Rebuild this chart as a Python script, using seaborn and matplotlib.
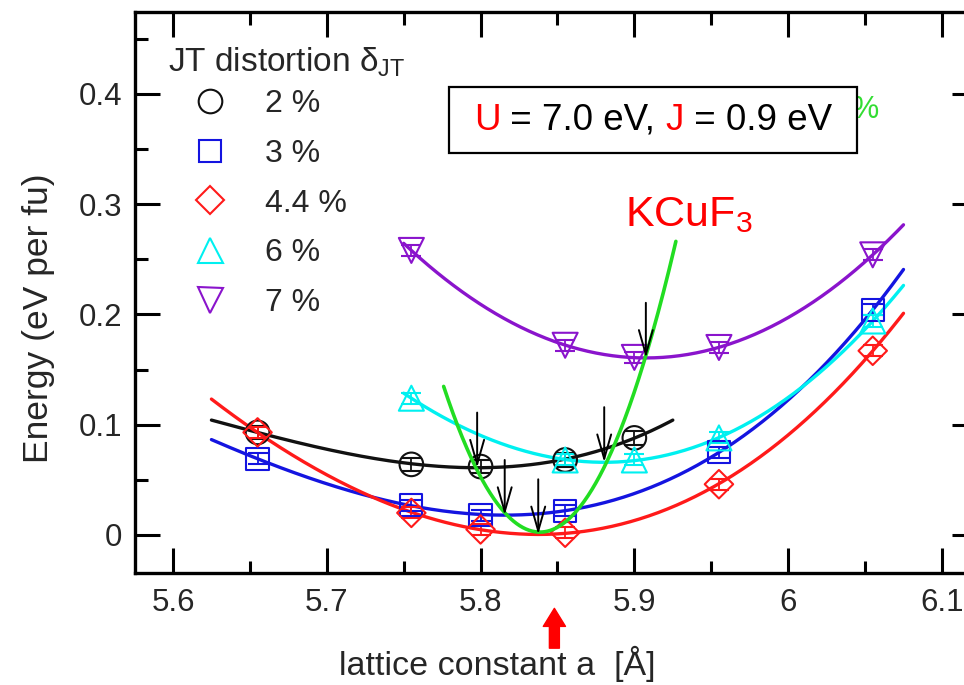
import numpy as np
import matplotlib
matplotlib.use("Agg")
import matplotlib.pyplot as plt
import seaborn as sns
from matplotlib.lines import Line2D
from matplotlib.patches import Rectangle
from matplotlib.offsetbox import TextArea, HPacker, AnchoredOffsetbox
from matplotlib.ticker import MultipleLocator, FuncFormatter

# Total energy (eV per formula unit) vs. cubic lattice constant a (Å)
# for several Jahn-Teller distortions, DFT+U with U = 7.0 eV, J = 0.9 eV
a_2 = [5.655, 5.755, 5.800, 5.855, 5.900]
e_2 = [0.093, 0.064, 0.062, 0.068, 0.088]
err_2 = [0.006, 0.006, 0.006, 0.006, 0.006]

a_3 = [5.655, 5.755, 5.800, 5.855, 5.955, 6.055]
e_3 = [0.069, 0.027, 0.018, 0.022, 0.075, 0.204]
err_3 = [0.005, 0.005, 0.005, 0.005, 0.005, 0.005]

a_44 = [5.655, 5.755, 5.800, 5.855, 5.955, 6.055]
e_44 = [0.093, 0.020, 0.005, 0.002, 0.046, 0.167]
err_44 = [0.005, 0.005, 0.005, 0.005, 0.005, 0.005]

a_6 = [5.755, 5.855, 5.900, 5.955, 6.055]
e_6 = [0.124, 0.068, 0.068, 0.088, 0.194]
err_6 = [0.005, 0.005, 0.005, 0.005, 0.005]

a_7 = [5.755, 5.855, 5.900, 5.955, 6.055]
e_7 = [0.258, 0.172, 0.161, 0.170, 0.254]
err_7 = [0.005, 0.005, 0.005, 0.005, 0.005]

labels = ["2 %", "3 %", "4.4 %", "6 %", "7 %"]
fit_ranges = [(5.625, 5.925), (5.625, 6.075), (5.625, 6.075), (5.750, 6.075), (5.750, 6.075)]

# experimental lattice constant of KCuF3
a_exp = 5.848

series = [
    (a_2, e_2, err_2, "o", 17, "#111111"),
    (a_3, e_3, err_3, "s", 16, "#1414e0"),
    (a_44, e_44, err_44, "D", 14.5, "#ff1a1a"),
    (a_6, e_6, err_6, "^", 18, "#00f0f0"),
    (a_7, e_7, err_7, "v", 18, "#8a14cc"),
]

sns.set_style("ticks")
plt.rcParams["font.family"] = ["Liberation Sans", "DejaVu Sans"]
plt.rcParams["mathtext.fontset"] = "custom"
plt.rcParams["mathtext.rm"] = "Liberation Sans"
plt.rcParams["mathtext.it"] = "Liberation Sans:italic"

W, H = 964, 685
fig = plt.figure(figsize=(W / 100, H / 100), dpi=100)
ax = fig.add_axes([135 / W, 1 - 573 / H, (977 - 135) / W, (573 - 12) / H])

min_a, min_e = [], []
for (a, e, err, mk, ms, col), (lo, hi) in zip(series, fit_ranges):
    coef = np.polyfit(a, e, 3)
    xs = np.linspace(lo, hi, 300)
    sns.lineplot(x=xs, y=np.polyval(coef, xs), color=col, lw=2.4, ax=ax, zorder=2)
    ax.errorbar(a, e, yerr=err, fmt="none", ecolor=col, elinewidth=1.3,
                capsize=7, capthick=1.5, zorder=3)
    sns.scatterplot(x=a, y=e, marker=mk, s=ms ** 2, facecolor="none",
                    edgecolor=col, linewidth=1.5, ax=ax, zorder=4)
    fine = np.linspace(min(a), max(a), 4001)
    vals = np.polyval(coef, fine)
    i = int(np.argmin(vals))
    min_a.append(fine[i])
    min_e.append(vals[i])

# parabola through the energy minima of the individual distortions
gcoef = np.polyfit(min_a, min_e, 2)
gx = np.linspace(5.776, 5.927, 300)
sns.lineplot(x=gx, y=np.polyval(gcoef, gx), color="#22dd22", lw=2.6, ax=ax, zorder=5)

for xm, ym in zip(min_a, min_e):
    ax.annotate("", xy=(xm, ym), xytext=(xm, ym + 0.05),
                arrowprops=dict(arrowstyle="->,head_length=0.7,head_width=0.2",
                                color="black", lw=1.4, mutation_scale=25,
                                shrinkA=0, shrinkB=0), zorder=6)

ax.set_xlim(5.5753, 6.1228)
ax.set_ylim(-0.0345, 0.4742)
ax.xaxis.set_major_locator(MultipleLocator(0.1))
ax.xaxis.set_minor_locator(MultipleLocator(0.05))
ax.yaxis.set_major_locator(MultipleLocator(0.1))
ax.yaxis.set_minor_locator(MultipleLocator(0.05))
ax.xaxis.set_major_formatter(FuncFormatter(lambda v, p: f"{v:g}"))
ax.yaxis.set_major_formatter(FuncFormatter(lambda v, p: f"{v:g}"))
ax.tick_params(which="both", direction="in", top=True, right=True, width=2.2,
               color="black", labelsize=22.5)
ax.tick_params(which="major", length=18)
ax.tick_params(which="minor", length=9)
ax.tick_params(axis="x", pad=11)
ax.tick_params(axis="y", pad=9)
for sp in ax.spines.values():
    sp.set_linewidth(2.4)
    sp.set_color("black")

ax.set_ylabel("Energy (eV per fu)", fontsize=25.5)
ax.yaxis.label.set_va("center")
ax.yaxis.set_label_coords(-0.115, 0.455)
ax.set_xlabel("lattice constant a  [Å]", fontsize=24.5)
ax.xaxis.label.set_va("center")
ax.xaxis.set_label_coords(0.43, -0.162)

# legend: heading drawn as its own text, entries as marker-only handles
fig.text(168 / W, 1 - 62 / H, "JT distortion δ$_{\\mathrm{JT}}$", ha="left", va="center",
         fontsize=24)
handles = [Line2D([], [], ls="none", marker=mk, ms=ms, mfc="none", mec=col, mew=1.5)
           for (_, _, _, mk, ms, col) in series]
ax.legend(handles, labels, loc="upper left",
          bbox_to_anchor=(168 / W, 1 - 89 / H), bbox_transform=fig.transFigure,
          frameon=False, fontsize=23, handlelength=2.6, handletextpad=0.44,
          labelspacing=0.62, borderpad=0, borderaxespad=0)

# red marker for the experimental lattice constant
ax.annotate("", xy=(a_exp, -0.063), xycoords=("data", "axes fraction"),
            xytext=(a_exp, -0.134), textcoords=("data", "axes fraction"),
            arrowprops=dict(arrowstyle="simple,head_length=0.65,head_width=0.8,tail_width=0.36",
                            color="red", mutation_scale=20, shrinkA=0, shrinkB=0),
            annotation_clip=False)

# green note tucked behind the parameter box
fig.text(852 / W, 1 - 110 / H, "%", ha="left", va="center", color="#33dd33",
         fontsize=22, zorder=5)
fig.patches.append(Rectangle((449 / W, 1 - 153 / H), 408 / W, 66 / H,
                             transform=fig.transFigure, facecolor="white",
                             edgecolor="black", linewidth=1.6, zorder=6))
parts = [("U", "red"), (" = 7.0 eV, ", "black"), ("J", "red"), (" = 0.9 eV", "black")]
packer = HPacker(children=[TextArea(t, textprops=dict(color=c, fontsize=26.5))
                           for t, c in parts], pad=0, sep=0, align="baseline")
box = AnchoredOffsetbox(loc="center", child=packer, pad=0, borderpad=0, frameon=False,
                        bbox_to_anchor=(653 / W, 1 - 120 / H),
                        bbox_transform=fig.transFigure)
box.set_zorder(7)
fig.add_artist(box)

fig.text(625 / W, 1 - 215 / H, "KCuF$_3$", ha="left", va="center", color="red",
         fontsize=31, zorder=7)

fig.savefig("out.png", dpi=100, facecolor="white")
